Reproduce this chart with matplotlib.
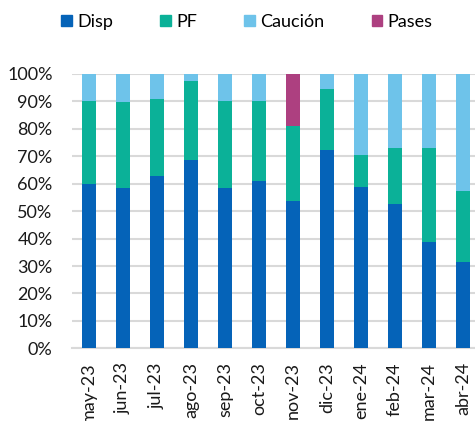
import numpy as np
import matplotlib.pyplot as plt
from matplotlib.patches import Patch

# data (%)
meses = ["may-23", "jun-23", "jul-23", "ago-23", "sep-23", "oct-23",
         "nov-23", "dic-23", "ene-24", "feb-24", "mar-24", "abr-24"]
disp = [60.0, 58.6, 62.7, 68.6, 58.6, 61.0, 53.7, 72.2, 58.7, 52.7, 38.9, 31.6]
pf = [30.0, 31.1, 28.1, 29.0, 31.4, 29.2, 27.3, 22.3, 11.8, 20.2, 34.2, 25.7]
caucion = [10.0, 10.3, 9.2, 2.4, 10.0, 9.8, 0.0, 5.5, 29.5, 27.1, 26.9, 42.7]
pases = [0, 0, 0, 0, 0, 0, 19.0, 0, 0, 0, 0, 0]

series = [("Disp", disp, "#0563b8"),
          ("PF", pf, "#0bb198"),
          ("Caución", caucion, "#6ec3ea"),
          ("Pases", pases, "#ad4080")]

plt.rcParams['font.family'] = ['Lato', 'DejaVu Sans']

fig = plt.figure(figsize=(4.75, 4.21), dpi=100)
ax = fig.add_axes([72/475, 1-348.3/421, (475-72)/475, (348.3-74)/421])

x = np.arange(len(meses))
bottom = np.zeros(len(meses))
for name, vals, col in series:
    vals = np.array(vals)
    ax.bar(x, vals, 0.4, bottom=bottom, color=col, zorder=3)
    bottom += vals

ax.set_xlim(-0.5, (475-89)/34)
ax.set_ylim(0, 100)
ax.set_yticks(np.arange(0, 101, 10))
ax.set_yticklabels([f"{v}%" for v in range(0, 101, 10)])
ax.set_xticks(x)
ax.set_xticklabels(meses, rotation=90)
ax.tick_params(length=0, labelsize=13, colors="#1a1a1a")
ax.tick_params(axis="y", pad=14)
ax.tick_params(axis="x", pad=10)
ax.grid(axis="y", color="#d9d9d9", linewidth=1.5, zorder=0)
for s in ["top", "right", "left"]:
    ax.spines[s].set_visible(False)
ax.spines["bottom"].set_color("#d9d9d9")
ax.spines["bottom"].set_linewidth(1.5)

handles = [Patch(color=c, label=n) for n, v, c in series]
fig.legend(handles=handles, loc="center", bbox_to_anchor=(247/475, 1-22/421),
           ncol=4, frameon=False, fontsize=13, handlelength=0.6,
           handleheight=0.6, handletextpad=0.3, columnspacing=2.6)

fig.savefig("out.png", dpi=100)
